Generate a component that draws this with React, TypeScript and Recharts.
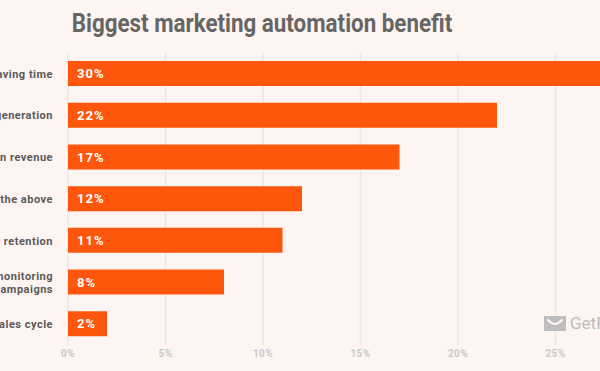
import React from "react";
import { BarChart, Bar, XAxis, YAxis, CartesianGrid, LabelList } from "recharts";

const categories = [
  "Saving time",
  "Lead generation",
  "Increase in revenue",
  "All of the above",
  "Customer retention",
  "Better monitoring\nof campaigns",
  "Shortened sales cycle",
];
const values = [30, 22, 17, 12, 11, 8, 2];
const xTicks = [0, 5, 10, 15, 20, 25, 30];

const data = categories.map((c, i) => ({ name: c, value: values[i] }));

const BG = "#FEF4F1";
const BAR = "#FF560D";

const YTick = (props: any) => {
  const { x, y, payload } = props;
  const lines = String(payload.value).split("\n");
  const lh = 13;
  const start = -((lines.length - 1) * lh) / 2;
  return (
    <text
      x={x}
      y={y}
      textAnchor="end"
      fill="#5a5a5a"
      fontFamily="Roboto, sans-serif"
      fontWeight={700}
      fontSize={11}
      letterSpacing={0.5}
    >
      {lines.map((l, i) => (
        <tspan key={i} x={x} y={y + start + i * lh} dy="0.35em">
          {l}
        </tspan>
      ))}
    </text>
  );
};

const XTick = (props: any) => {
  const { x, y, payload } = props;
  return (
    <text
      x={x}
      y={y + 8}
      textAnchor="middle"
      fill="#cdc8c8"
      fontFamily="Roboto, sans-serif"
      fontWeight={700}
      fontSize={10}
      letterSpacing={0.4}
      dy="0.35em"
    >
      {payload.value + "%"}
    </text>
  );
};

export default function App() {
  return (
    <div
      style={{
        position: "fixed",
        left: 0,
        top: 0,
        width: 600,
        height: 371,
        overflow: "hidden",
        background: BG,
      }}
    >
      <div
        style={{
          position: "absolute",
          left: 0,
          top: 5,
          width: 524,
          textAlign: "center",
          fontFamily: "Roboto, sans-serif",
          fontWeight: 700,
          fontSize: 26,
          color: "#666666",
          lineHeight: "36px",
          transform: "scaleX(0.86)",
          transformOrigin: "262px 0",
          whiteSpace: "nowrap",
        }}
      >
        Biggest marketing automation benefit
      </div>
      <div style={{ position: "absolute", left: -100, top: 0 }}>
        <BarChart
          width={753}
          height={371}
          data={data}
          layout="vertical"
          margin={{ top: 53, right: 0, bottom: 0, left: 0 }}
        >
          <CartesianGrid horizontal={false} vertical={true} stroke="#ece6e4" strokeWidth={1.5} />
          <XAxis
            type="number"
            domain={[0, 30]}
            ticks={xTicks}
            axisLine={false}
            tickLine={false}
            height={26}
            tick={<XTick />}
            tickMargin={0}
            tickSize={0}
          />
          <YAxis
            type="category"
            dataKey="name"
            width={168}
            axisLine={false}
            tickLine={false}
            tickSize={0}
            tickMargin={15}
            tick={<YTick />}
            interval={0}
          />
          <Bar dataKey="value" fill={BAR} barSize={25} isAnimationActive={false}>
            <LabelList
              dataKey="value"
              position="insideLeft"
              offset={9}
              formatter={(v: any) => v + "%"}
              fill="#ffffff"
              style={{
                fontFamily: "Roboto, sans-serif",
                fontWeight: 700,
                fontSize: 13,
                letterSpacing: 1,
              }}
            />
          </Bar>
        </BarChart>
      </div>
      <div
        style={{
          position: "absolute",
          left: 544,
          top: 316,
          display: "flex",
          alignItems: "center",
          whiteSpace: "nowrap",
        }}
      >
        <svg width={22} height={15} viewBox="0 0 22 15">
          <rect x={0} y={0} width={22} height={15} fill="#bdbdbd" />
          <path d="M4 4 Q11 12 18 4" stroke={BG} strokeWidth={2.2} fill="none" strokeLinecap="round" />
        </svg>
        <span
          style={{
            marginLeft: 4,
            fontFamily: "Roboto, sans-serif",
            fontSize: 17,
            color: "#bdbdbd",
            lineHeight: "15px",
          }}
        >
          GetResponse
        </span>
      </div>
    </div>
  );
}
